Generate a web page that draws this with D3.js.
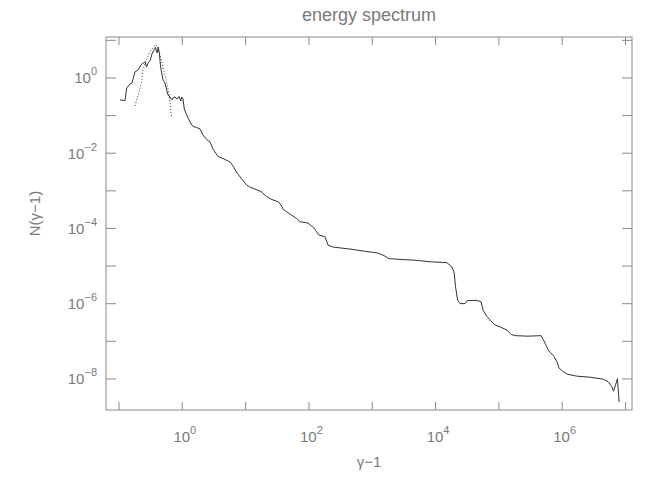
<!DOCTYPE html>
<html>
<head>
<meta charset="utf-8">
<script src="https://cdn.jsdelivr.net/npm/d3@7"></script>
<style>
  html, body { margin: 0; padding: 0; background: #fff; }
  text { font-family: "Liberation Sans", Arial, sans-serif; fill: #7a7a7a; }
</style>
</head>
<body>
<svg id="chart" width="664" height="478"></svg>
<script>
// ---- data ----
const title = "energy spectrum";
const xTitle = "γ−1";
const yTitle = "N(γ−1)";
const xDomain = [0.0635, 1.29e7];
const yDomain = [1.45e-9, 11.9];
const xTickExps = [-1, 0, 1, 2, 3, 4, 5, 6, 7];
const xLabelExps = [0, 2, 4, 6];
const yTickExps = [1, 0, -1, -2, -3, -4, -5, -6, -7, -8];
const yLabelExps = [0, -2, -4, -6, -8];

// solid curve: gamma-1 and N(gamma-1)
const solidX = [0.106, 0.127, 0.135, 0.152, 0.163, 0.182, 0.203, 0.233, 0.262, 0.279,
  0.292, 0.315, 0.338, 0.364, 0.384, 0.406, 0.426, 0.445, 0.461, 0.481,
  0.505, 0.543, 0.577, 0.605, 0.651, 0.692, 0.726, 0.781, 0.840, 0.903,
  0.961, 0.996, 1.045, 1.095, 1.195, 1.35, 1.50, 1.72, 1.94, 2.16,
  2.47, 2.79, 3.11, 3.73, 4.48, 5.77, 6.44, 7.45, 8.84, 10.6,
  11.9, 14.3, 17.8, 21.9, 26.6, 33.1, 36.9, 40.4, 51.2, 65.3,
  73.7, 98.6, 122, 147, 183, 204, 245, 454, 834, 1259,
  1565, 1876, 2799, 5140, 8337, 15300, 18400, 19950, 21100, 22700,
  24800, 29800, 32100, 45600, 53300, 57300, 66300, 79500, 88700, 1.06e5,
  1.36e5, 1.62e5, 1.91e5, 2.84e5, 4.73e5, 5.27e5, 6.21e5, 7.59e5, 8.46e5, 9.10e5,
  1.03e6, 1.22e6, 1.73e6, 2.81e6, 4.51e6, 5.41e6, 6.19e6, 6.61e6, 7.24e6, 7.59e6,
  7.87e6, 8.07e6];
const solidY = [0.252, 0.244, 0.526, 0.672, 0.714, 1.40, 1.58, 2.29, 2.58, 1.90,
  2.43, 2.75, 4.22, 5.39, 6.28, 4.48, 6.47, 3.97, 2.02, 1.32,
  0.858, 0.714, 0.465, 0.343, 0.303, 0.252, 0.285, 0.303, 0.268, 0.313,
  0.237, 0.303, 0.268, 0.145, 0.1007, 0.0655, 0.0498, 0.0468, 0.0427, 0.0296,
  0.0224, 0.0193, 0.0125, 0.00793, 0.00701, 0.00566, 0.00443, 0.00288, 0.00200, 0.00138,
  0.00122, 0.00108, 9.29e-4, 6.76e-4, 5.69e-4, 4.98e-4, 4.06e-4, 3.08e-4, 2.34e-4, 1.78e-4,
  1.46e-4, 1.35e-4, 9.93e-5, 6.47e-5, 5.83e-5, 3.51e-5, 3.10e-5, 2.75e-5, 2.36e-5, 2.15e-5,
  1.84e-5, 1.53e-5, 1.46e-5, 1.38e-5, 1.26e-5, 1.20e-5, 9.29e-6, 6.71e-6, 2.68e-6, 1.21e-6,
  9.75e-7, 9.75e-7, 1.17e-6, 1.19e-6, 1.09e-6, 6.55e-7, 4.40e-7, 3.14e-7, 2.62e-7, 2.36e-7,
  1.93e-7, 1.46e-7, 1.37e-7, 1.33e-7, 1.37e-7, 9.81e-8, 5.48e-8, 3.80e-8, 2.72e-8, 1.88e-8,
  1.56e-8, 1.30e-8, 1.15e-8, 1.08e-8, 9.58e-9, 8.22e-9, 6.05e-9, 4.59e-9, 7.50e-9, 9.88e-9,
  4.32e-9, 2.34e-9];

// dotted curve
const dottedX = [0.182, 0.196, 0.215, 0.231, 0.244, 0.262, 0.282, 0.309, 0.332, 0.364,
  0.398, 0.421, 0.453, 0.481, 0.505, 0.543, 0.583, 0.617, 0.651, 0.675, 0.692];
const dottedY = [0.175, 0.268, 0.465, 0.759, 1.58, 2.29, 3.30, 4.48, 5.55, 6.67,
  7.32, 6.09, 3.97, 2.75, 1.79, 1.17, 0.672, 0.438, 0.223, 0.121, 0.089];

// ---- layout ----
const W = 664, H = 478;
const m = { left: 106, right: 632, top: 37, bottom: 410 };
const axisColor = "#8a8a8a";
const svg = d3.select("#chart");

const x = d3.scaleLog().domain(xDomain).range([m.left, m.right]);
const y = d3.scaleLog().domain(yDomain).range([m.bottom, m.top]);

// frame
svg.append("rect")
  .attr("x", m.left).attr("y", m.top)
  .attr("width", m.right - m.left).attr("height", m.bottom - m.top)
  .attr("fill", "none").attr("stroke", axisColor).attr("stroke-width", 1);

const xt = xTickExps.map(e => Math.pow(10, e));
const yt = yTickExps.map(e => Math.pow(10, e));

function styleAxis(g) {
  g.select(".domain").remove();
  g.selectAll(".tick line").attr("stroke", axisColor);
  g.selectAll(".tick text").remove();
}
svg.append("g").attr("transform", `translate(0,${m.bottom})`)
  .call(d3.axisTop(x).tickValues(xt).tickSize(8).tickFormat("")).call(styleAxis);
svg.append("g").attr("transform", `translate(0,${m.top})`)
  .call(d3.axisBottom(x).tickValues(xt).tickSize(8).tickFormat("")).call(styleAxis);
svg.append("g").attr("transform", `translate(${m.left},0)`)
  .call(d3.axisRight(y).tickValues(yt).tickSize(10).tickFormat("")).call(styleAxis);
svg.append("g").attr("transform", `translate(${m.right},0)`)
  .call(d3.axisLeft(y).tickValues(yt).tickSize(10).tickFormat("")).call(styleAxis);

const fmtExp = e => (e < 0 ? "−" + Math.abs(e) : String(e));

// x tick labels
xLabelExps.forEach(e => {
  const t = svg.append("text")
    .attr("x", x(Math.pow(10, e)) + 3).attr("y", 442)
    .attr("text-anchor", "middle").attr("font-size", 15);
  t.append("tspan").text("10");
  t.append("tspan").attr("dy", -8).attr("font-size", 11).text(fmtExp(e));
});

// y tick labels
yLabelExps.forEach(e => {
  const t = svg.append("text")
    .attr("x", 97).attr("y", y(Math.pow(10, e)) + 6)
    .attr("text-anchor", "end").attr("font-size", 15);
  t.append("tspan").text("10");
  t.append("tspan").attr("dy", -8).attr("font-size", 11).text(fmtExp(e));
});

// titles
svg.append("text").attr("x", (m.left + m.right) / 2).attr("y", 21)
  .attr("text-anchor", "middle").attr("font-size", 18).text(title);
svg.append("text").attr("x", (m.left + m.right) / 2).attr("y", 467)
  .attr("text-anchor", "middle").attr("font-size", 15).text(xTitle);
svg.append("text")
  .attr("transform", `translate(40,${(m.top + m.bottom) / 2 - 10}) rotate(-90)`)
  .attr("text-anchor", "middle").attr("font-size", 15).text(yTitle);

// curves
const line = d3.line().x(d => x(d[0])).y(d => y(d[1]));
const solid = solidX.map((v, i) => [v, solidY[i]]);
const dotted = dottedX.map((v, i) => [v, dottedY[i]]);

svg.append("path").datum(dotted).attr("d", line)
  .attr("fill", "none").attr("stroke", "#333").attr("stroke-width", 1)
  .attr("stroke-dasharray", "1,2");
svg.append("path").datum(solid).attr("d", line)
  .attr("fill", "none").attr("stroke", "#333").attr("stroke-width", 1);
</script>
</body>
</html>
